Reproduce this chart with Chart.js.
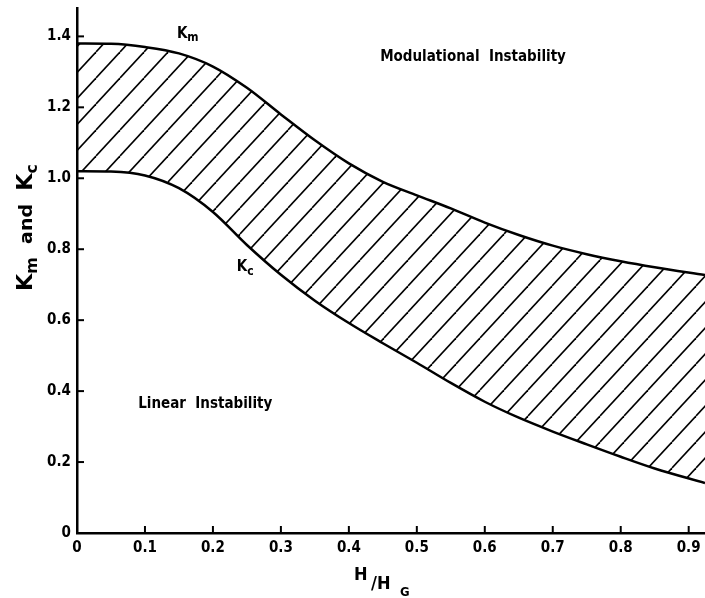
<!DOCTYPE html>
<html>
<head>
	<title>Km and Kc</title>
	<style>
		body { margin: 0; background: #fff; }
		#wrap { width: 705px; height: 598px; }
	</style>
</head>
<body>
	<div id="wrap"><canvas id="chart1"></canvas></div>

	<script src="https://cdn.jsdelivr.net/npm/chart.js@4.4.1/dist/chart.umd.min.js"></script>
	<script>
		// H/HG values
		const hValues = [0, 0.05, 0.1, 0.15, 0.2, 0.25, 0.3, 0.35, 0.4, 0.45, 0.5, 0.55, 0.6, 0.65, 0.7, 0.75, 0.8, 0.85, 0.924];
		const kmValues = [1.38, 1.379, 1.37, 1.352, 1.315, 1.255, 1.18, 1.107, 1.042, 0.99, 0.952, 0.915, 0.875, 0.84, 0.81, 0.786, 0.766, 0.749, 0.727];
		const kcValues = [1.02, 1.019, 1.008, 0.972, 0.905, 0.812, 0.728, 0.655, 0.592, 0.535, 0.48, 0.423, 0.37, 0.325, 0.286, 0.25, 0.215, 0.182, 0.141];

		const xTickStep = 0.1;
		const yTickStep = 0.2;

		const tickFont = { family: "'DejaVu Sans Condensed', 'DejaVu Sans'", size: 15, weight: 'bold' };
		const textFamily = "'DejaVu Sans Condensed', 'DejaVu Sans'";

		// diagonal hatch for the band between the curves
		function makeHatch() {
			const w = 24, h = 26;
			const c = document.createElement('canvas');
			c.width = w; c.height = h;
			const g = c.getContext('2d');
			g.strokeStyle = '#000';
			g.lineWidth = 1.6;
			for (let k = -1; k <= 1; k++) {
				g.beginPath();
				g.moveTo(k * w, h);
				g.lineTo(k * w + w, 0);
				g.stroke();
			}
			return g.createPattern(c, 'repeat');
		}

		// draws text pieces (with sub-scripts); fitW stretches/squeezes to a width
		function drawParts(ctx, parts, x, y, maxW, fitW) {
			let total = 0;
			parts.forEach(p => {
				ctx.font = 'bold ' + p.size + 'px ' + textFamily;
				p.w = ctx.measureText(p.t).width;
				total += p.w;
			});
			let k = maxW && total > maxW ? maxW / total : 1;
			if (fitW) k = fitW / total;
			let cx = x;
			parts.forEach(p => {
				ctx.font = 'bold ' + p.size + 'px ' + textFamily;
				ctx.save();
				ctx.translate(cx, y + (p.dy || 0));
				ctx.scale(k, 1);
				ctx.fillText(p.t, 0, 0);
				ctx.restore();
				cx += p.w * k;
			});
		}

		const inkPlugin = {
			id: 'ink',
			afterDraw(chart) {
				const ctx = chart.ctx;
				const xs = chart.scales.x, ys = chart.scales.y;
				const area = chart.chartArea;
				ctx.save();
				ctx.strokeStyle = '#000';
				ctx.lineWidth = 2;
				xs.ticks.forEach(t => {
					if (t.value === 0) return;
					const px = xs.getPixelForValue(t.value);
					ctx.beginPath();
					ctx.moveTo(px, area.bottom);
					ctx.lineTo(px, area.bottom - 7);
					ctx.stroke();
				});
				ys.ticks.forEach(t => {
					if (t.value === 0) return;
					const py = ys.getPixelForValue(t.value);
					ctx.beginPath();
					ctx.moveTo(area.left, py);
					ctx.lineTo(area.left + 7, py);
					ctx.stroke();
				});

				ctx.fillStyle = '#000';
				ctx.textAlign = 'left';
				ctx.textBaseline = 'alphabetic';

				// region labels
				drawParts(ctx, [{ t: 'Modulational  Instability', size: 15 }],
					xs.getPixelForValue(0.446), ys.getPixelForValue(1.33), 207);
				drawParts(ctx, [{ t: 'Linear  Instability', size: 15 }],
					xs.getPixelForValue(0.09), ys.getPixelForValue(0.352), 158);

				// curve labels
				drawParts(ctx, [{ t: 'K', size: 15 }, { t: 'm', size: 12, dy: 3 }],
					xs.getPixelForValue(0.147), ys.getPixelForValue(1.395));
				drawParts(ctx, [{ t: 'K', size: 15 }, { t: 'c', size: 12, dy: 4 }],
					xs.getPixelForValue(0.235), ys.getPixelForValue(0.738));

				// x axis title
				drawParts(ctx, [{ t: 'H ', size: 18 }], 354, 580);
				drawParts(ctx, [{ t: '/H', size: 18 }], 371, 589);
				drawParts(ctx, [{ t: 'G', size: 13 }], 400, 596);

				// y axis title
				ctx.translate(32, 291);
				ctx.rotate(-Math.PI / 2);
				drawParts(ctx, [
					{ t: 'K', size: 21 }, { t: 'm', size: 15, dy: 5 },
					{ t: '  and  ', size: 18 },
					{ t: 'K', size: 21 }, { t: 'c', size: 15, dy: 5 }
				], 0, 0, null, 127);
				ctx.restore();
			}
		};

		const ctx = document.getElementById('chart1').getContext('2d');
		const chart = new Chart(ctx, {
			type: 'line',
			data: {
				datasets: [
					{
						label: 'Kc',
						data: hValues.map((h, i) => ({ x: h, y: kcValues[i] })),
						borderColor: '#000',
						borderWidth: 2.5,
						pointRadius: 0,
						cubicInterpolationMode: 'monotone',
						fill: false
					},
					{
						label: 'Km',
						data: hValues.map((h, i) => ({ x: h, y: kmValues[i] })),
						borderColor: '#000',
						borderWidth: 2.5,
						pointRadius: 0,
						cubicInterpolationMode: 'monotone',
						backgroundColor: makeHatch(),
						fill: '-1'
					}
				]
			},
			options: {
				responsive: true,
				maintainAspectRatio: false,
				animation: false,
				layout: { padding: { top: 8, right: 0, left: 0, bottom: 0 } },
				plugins: {
					legend: { display: false },
					tooltip: { enabled: false }
				},
				scales: {
					x: {
						type: 'linear',
						min: 0,
						max: 0.924,
						grid: { display: false, drawTicks: false },
						border: { display: true, color: '#000', width: 2.5 },
						ticks: {
							stepSize: xTickStep,
							includeBounds: false,
							color: '#000',
							font: tickFont,
							padding: 6,
							maxRotation: 0,
							callback: v => v === 0 ? '0' : v.toFixed(1)
						},
						afterFit: s => { s.height = 65; s.paddingLeft = 0; s.paddingRight = 0; }
					},
					y: {
						min: 0,
						max: 1.48,
						grid: { display: false, drawTicks: false },
						border: { display: true, color: '#000', width: 2.5 },
						ticks: {
							stepSize: yTickStep,
							includeBounds: false,
							color: '#000',
							font: tickFont,
							padding: 6,
							callback: v => v === 0 ? '0' : v.toFixed(1)
						},
						afterFit: s => { s.width = 77; s.paddingTop = 0; s.paddingBottom = 0; }
					}
				}
			},
			plugins: [inkPlugin]
		});
	</script>
</body>
</html>
